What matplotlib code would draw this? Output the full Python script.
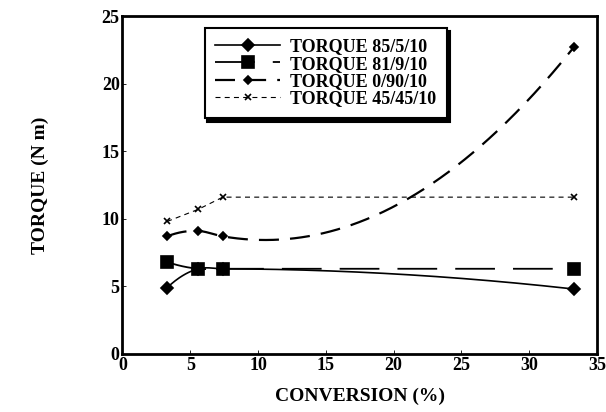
import numpy as np
import matplotlib.pyplot as plt

plt.rcParams['font.family'] = ['Liberation Serif', 'DejaVu Serif']
plt.rcParams['font.weight'] = 'bold'

# conversion (%) and torque (N m) for each blend
conversion = [3.3, 5.6, 7.4, 33.3]
torque_85_5_10 = [4.9, 6.3, 6.3, 4.8]
torque_81_9_10 = [6.8, 6.3, 6.3, 6.3]
torque_0_90_10 = [8.7, 9.1, 8.7, 22.7]
torque_45_45_10 = [9.8, 10.7, 11.6, 11.6]


def smooth_curve(x, y, n=400):
    # piecewise cubic Hermite with three-point (Bessel) slopes
    x = np.asarray(x, float)
    y = np.asarray(y, float)
    h = np.diff(x)
    d = np.diff(y) / h
    m = np.zeros_like(x)
    m[1:-1] = (h[1:] * d[:-1] + h[:-1] * d[1:]) / (h[:-1] + h[1:])
    m[0] = d[0] + (d[0] - d[1]) * h[0] / (h[0] + h[1])
    m[-1] = d[-1] + (d[-1] - d[-2]) * h[-1] / (h[-1] + h[-2])
    xs = np.linspace(x[0], x[-1], n)
    j = np.clip(np.searchsorted(x, xs) - 1, 0, len(x) - 2)
    s = (xs - x[j]) / h[j]
    h00 = 2 * s**3 - 3 * s**2 + 1
    h10 = s**3 - 2 * s**2 + s
    h01 = -2 * s**3 + 3 * s**2
    h11 = s**3 - s**2
    ys = h00 * y[j] + h10 * h[j] * m[j] + h01 * y[j + 1] + h11 * h[j] * m[j + 1]
    return xs, ys


fig = plt.figure(figsize=(6.06, 4.12), dpi=100)
ax = fig.add_axes([0.202, 0.141, 0.783, 0.820])

series = [
    ('TORQUE 85/5/10', torque_85_5_10, '-', 1.2, 'D', 6.5, True),
    ('TORQUE 81/9/10', torque_81_9_10, (0, (22, 10)), 1.3, 's', 8.5, True),
    ('TORQUE 0/90/10', torque_0_90_10, (0, (9, 5)), 1.6, 'D', 4.5, True),
    ('TORQUE 45/45/10', torque_45_45_10, (0, (4.5, 3.8)), 0.8, 'x', 5, False),
]

handles = []
for label, vals, ls, lw, mk, ms, smooth in series:
    if smooth:
        xs, ys = smooth_curve(conversion, vals)
    else:
        xs, ys = conversion, vals
    ax.plot(xs, ys, color='black', linestyle=ls, linewidth=lw)
    ax.plot(conversion, vals, linestyle='none', marker=mk, markersize=ms,
            color='black', markeredgewidth=1.2)
    h, = ax.plot([], [], color='black', linestyle=ls, linewidth=lw,
                 marker=mk, markersize=ms, markeredgewidth=1.2, label=label)
    handles.append(h)

ax.set_xlim(0, 35)
ax.set_ylim(0, 25)
ax.set_xticks(range(0, 36, 5))
ax.set_yticks(range(0, 26, 5))
ax.tick_params(direction='in', length=3, width=0.6, labelsize=13, pad=2)
for lab in ax.get_xticklabels() + ax.get_yticklabels():
    lab.set_fontweight('bold')
for sp in ax.spines.values():
    sp.set_linewidth(2)

ax.set_xlabel('CONVERSION (%)', fontsize=14, fontweight='bold', labelpad=10)
ax.set_ylabel('TORQUE (N m)', fontsize=14, fontweight='bold', labelpad=38)

leg = ax.legend(handles=handles, loc='upper left', bbox_to_anchor=(0.173, 0.966),
                frameon=True, fancybox=False,
                shadow={'color': 'black', 'alpha': 1, 'ox': 2, 'oy': -2.5},
                borderpad=0.6, labelspacing=0.02, handlelength=3.6,
                handletextpad=0.55, borderaxespad=0,
                prop={'weight': 'bold', 'size': 13})
leg.get_frame().set_edgecolor('black')
leg.get_frame().set_linewidth(1.5)

fig.savefig('out.png', dpi=100)
